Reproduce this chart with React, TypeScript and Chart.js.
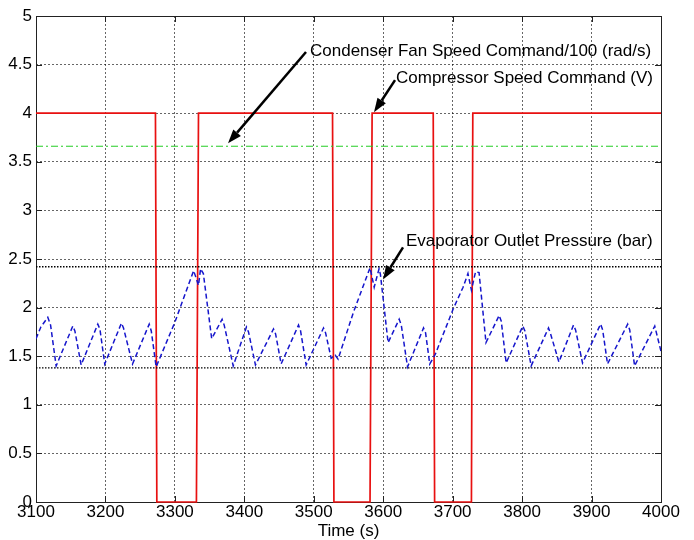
import React, { useEffect, useRef } from "react";
import { Chart, registerables } from "chart.js";

Chart.register(...registerables);

// Compressor speed command (V) – step signal
const compTime = [3100, 3272, 3274, 3331, 3334, 3527, 3529, 3581, 3584, 3672, 3674, 3727, 3729, 4000];
const compSpeed = [4, 4, 0, 0, 4, 4, 0, 0, 4, 4, 0, 0, 4, 4];

// Condenser fan speed command / 100 (rad/s)
const fanTime = [3100, 4000];
const fanSpeed = [3.66, 3.66];

// Evaporator outlet pressure (bar)
const pressTime = [
  3100, 3107, 3117, 3121, 3129, 3153, 3156, 3165, 3189, 3192, 3199, 3223, 3226, 3239, 3263, 3266,
  3273, 3300, 3327, 3334, 3337, 3341, 3353, 3368, 3371, 3384, 3403, 3406, 3416, 3442, 3445, 3453,
  3478, 3481, 3489, 3514, 3517, 3525, 3531, 3535, 3557, 3581, 3587, 3594, 3596, 3607, 3623, 3626,
  3635, 3658, 3661, 3667, 3675, 3701, 3715, 3722, 3727, 3733, 3738, 3748, 3767, 3770, 3777, 3801,
  3804, 3813, 3838, 3841, 3853, 3874, 3877, 3887, 3913, 3916, 3923, 3952, 3955, 3962, 3991, 4000,
];
const pressure = [
  1.68, 1.8, 1.9, 1.82, 1.4, 1.81, 1.76, 1.41, 1.83, 1.78, 1.42, 1.84, 1.79, 1.42, 1.83, 1.76,
  1.39, 1.85, 2.38, 2.23, 2.4, 2.35, 1.68, 1.88, 1.82, 1.4, 1.8, 1.75, 1.41, 1.78, 1.73, 1.42,
  1.82, 1.76, 1.41, 1.79, 1.74, 1.48, 1.51, 1.47, 1.95, 2.41, 2.21, 2.4, 2.34, 1.64, 1.88, 1.82,
  1.39, 1.79, 1.74, 1.42, 1.52, 1.99, 2.21, 2.35, 2.18, 2.37, 2.36, 1.64, 1.92, 1.86, 1.43, 1.81,
  1.76, 1.4, 1.79, 1.73, 1.44, 1.82, 1.77, 1.43, 1.83, 1.77, 1.42, 1.83, 1.77, 1.4, 1.81, 1.55,
];

// Pressure bounds (reference lines)
const pressMax = 2.42;
const pressMin = 1.38;

// Axis ranges
const xMin = 3100;
const xMax = 4000;
const xStep = 100;
const yMin = 0;
const yMax = 5;
const yStep = 0.5;

const xTitle = "Time (s)";

// Annotations (data coordinates)
const annotations = [
  { text: "Condenser Fan Speed Command/100 (rad/s)", tx: 3494.6, ty: 4.64, fx: 3488.8, fy: 4.63, ax: 3376.5, ay: 3.69 },
  { text: "Compressor Speed Command (V)", tx: 3618.4, ty: 4.36, fx: 3617, fy: 4.34, ax: 3586.7, ay: 4.01 },
  { text: "Evaporator Outlet Pressure (bar)", tx: 3632.8, ty: 2.685, fx: 3628.5, fy: 2.62, ax: 3599.7, ay: 2.29 },
];

const FONT = "'Liberation Sans', Arial, Helvetica, sans-serif";

const pts = (xs: number[], ys: number[]) => xs.map((x, i) => ({ x, y: ys[i] }));

const decorPlugin = {
  id: "decor",
  beforeDatasetsDraw(chart: any) {
    const { ctx, chartArea, scales } = chart;
    const xs = scales.x;
    const ys = scales.y;
    const { left, right, top, bottom } = chartArea;
    ctx.save();
    ctx.strokeStyle = "#222";
    ctx.lineWidth = 1;
    ctx.beginPath();
    for (let v = xMin; v <= xMax; v += xStep) {
      const px = Math.round(xs.getPixelForValue(v)) + 0.5;
      ctx.moveTo(px, bottom);
      ctx.lineTo(px, bottom - 6);
      ctx.moveTo(px, top);
      ctx.lineTo(px, top + 6);
    }
    for (let v = yMin; v <= yMax + 1e-9; v += yStep) {
      const py = Math.round(ys.getPixelForValue(v)) + 0.5;
      ctx.moveTo(left, py);
      ctx.lineTo(left + 6, py);
      ctx.moveTo(right, py);
      ctx.lineTo(right - 6, py);
    }
    ctx.stroke();
    ctx.strokeRect(Math.round(left) + 0.5, Math.round(top) + 0.5, Math.round(right - left), Math.round(bottom - top));
    ctx.restore();
  },
  afterDraw(chart: any) {
    const { ctx, scales } = chart;
    const xs = scales.x;
    const ys = scales.y;
    ctx.save();
    ctx.fillStyle = "#000";
    ctx.font = `17px ${FONT}`;
    ctx.textBaseline = "middle";
    ctx.textAlign = "left";
    for (const a of annotations) {
      ctx.fillText(a.text, xs.getPixelForValue(a.tx), ys.getPixelForValue(a.ty));
      const x1 = xs.getPixelForValue(a.fx);
      const y1 = ys.getPixelForValue(a.fy);
      const x2 = xs.getPixelForValue(a.ax);
      const y2 = ys.getPixelForValue(a.ay);
      const ang = Math.atan2(y2 - y1, x2 - x1);
      const headLen = 14;
      const headW = 5;
      const bx = x2 - headLen * Math.cos(ang);
      const by = y2 - headLen * Math.sin(ang);
      ctx.strokeStyle = "#000";
      ctx.lineWidth = 2.5;
      ctx.beginPath();
      ctx.moveTo(x1, y1);
      ctx.lineTo(bx, by);
      ctx.stroke();
      ctx.beginPath();
      ctx.moveTo(x2, y2);
      ctx.lineTo(bx + headW * Math.sin(ang), by - headW * Math.cos(ang));
      ctx.lineTo(bx - headW * Math.sin(ang), by + headW * Math.cos(ang));
      ctx.closePath();
      ctx.fill();
    }
    ctx.restore();
  },
};

export default function App() {
  const ref = useRef<HTMLCanvasElement | null>(null);
  useEffect(() => {
    document.body.style.margin = "0";
    document.body.style.background = "#fff";
    const canvas = ref.current;
    if (!canvas) return;
    const chart = new Chart(canvas, {
      type: "line",
      data: {
        datasets: [
          {
            label: "max",
            data: pts([xMin, xMax], [pressMax, pressMax]),
            borderColor: "#000",
            borderWidth: 1.4,
            borderDash: [1.5, 1.5],
            pointRadius: 0,
          },
          {
            label: "min",
            data: pts([xMin, xMax], [pressMin, pressMin]),
            borderColor: "#000",
            borderWidth: 1.4,
            borderDash: [1.5, 1.5],
            pointRadius: 0,
          },
          {
            label: "Condenser Fan Speed Command/100 (rad/s)",
            data: pts(fanTime, fanSpeed),
            borderColor: "#22cc22",
            borderWidth: 1,
            borderDash: [7, 3, 2, 3],
            pointRadius: 0,
          },
          {
            label: "Evaporator Outlet Pressure (bar)",
            data: pts(pressTime, pressure),
            borderColor: "#1515cc",
            borderWidth: 1.5,
            borderDash: [5, 3],
            pointRadius: 0,
          },
          {
            label: "Compressor Speed Command (V)",
            data: pts(compTime, compSpeed),
            borderColor: "#e81010",
            borderWidth: 1.7,
            pointRadius: 0,
            clip: 2,
          },
        ],
      },
      options: {
        animation: false,
        responsive: false,
        events: [],
        layout: { padding: { top: 16, right: 33, left: 0, bottom: 0 } },
        plugins: { legend: { display: false }, tooltip: { enabled: false } },
        elements: { line: { tension: 0 } },
        scales: {
          x: {
            type: "linear",
            min: xMin,
            max: xMax,
            afterFit: (s: any) => {
              s.height = 38;
            },
            grid: { color: "rgba(0,0,0,0.6)", lineWidth: 1, drawTicks: false },
            border: { display: false, dash: [2, 2] },
            ticks: {
              stepSize: xStep,
              padding: 0,
              color: "#000",
              font: { family: FONT, size: 17 },
              maxRotation: 0,
              autoSkip: false,
              callback: (v: any) => String(v),
            },
            title: {
              display: true,
              text: xTitle,
              color: "#000",
              font: { family: FONT, size: 17, lineHeight: 1 },
              padding: { top: 0, bottom: 0 },
            },
          },
          y: {
            type: "linear",
            min: yMin,
            max: yMax,
            afterFit: (s: any) => {
              s.width = 36;
            },
            grid: { color: "rgba(0,0,0,0.6)", lineWidth: 1, drawTicks: false },
            border: { display: false, dash: [2, 2] },
            ticks: {
              stepSize: yStep,
              padding: 4,
              color: "#000",
              font: { family: FONT, size: 17 },
              autoSkip: false,
              callback: (v: any) => String(v),
            },
          },
        },
      },
      plugins: [decorPlugin],
    });
    return () => chart.destroy();
  }, []);
  return (
    <canvas
      ref={ref}
      width={694}
      height={540}
      style={{ position: "absolute", left: 0, top: 0, display: "block", width: 694, height: 540 }}
    />
  );
}
